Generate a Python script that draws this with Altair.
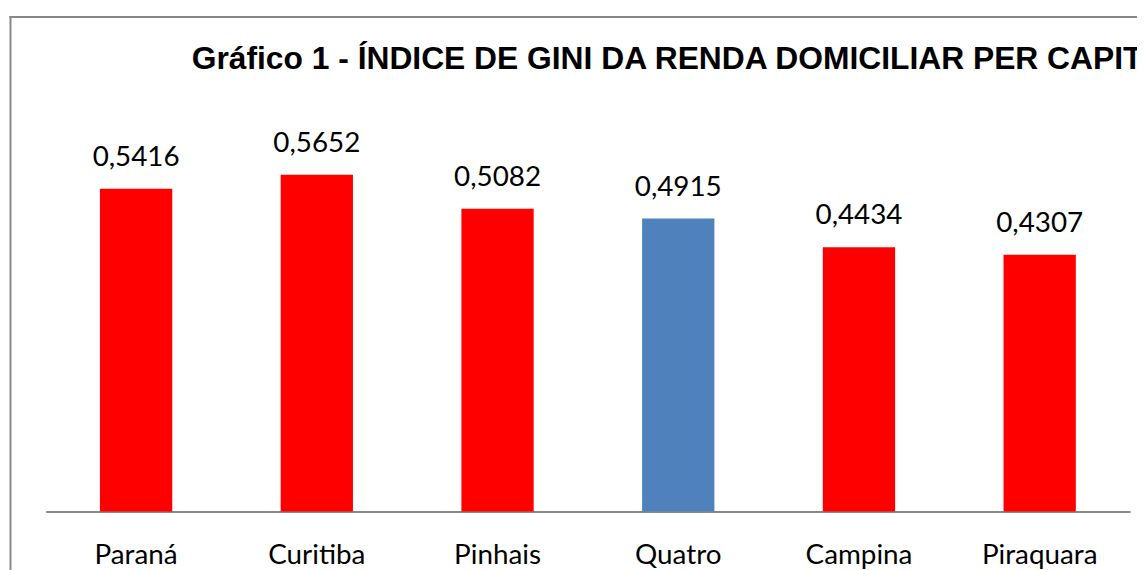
import altair as alt
import pandas as pd

# ---- data ----
categorias = ["Paraná", "Curitiba", "Pinhais", "Quatro", "Campina", "Piraquara"]
gini = [0.5416, 0.5652, 0.5082, 0.4915, 0.4434, 0.4307]
destaque = ["Quatro"]
titulo = "Gráfico 1 - ÍNDICE DE GINI DA RENDA DOMICILIAR PER CAPITA"

df = pd.DataFrame({"municipio": categorias, "gini": gini})
moldura = pd.DataFrame({"k": [0]})

W, H = 1092, 360
CINZA = "#888888"

base = alt.Chart(df).encode(
    x=alt.X(
        "municipio:N",
        sort=categorias,
        scale=alt.Scale(paddingInner=0.6, paddingOuter=0.3),
        axis=alt.Axis(
            title=None,
            labelAngle=0,
            ticks=False,
            tickSize=0,
            grid=False,
            domainColor=CINZA,
            domainWidth=2,
            labelFont="Lato",
            labelFontSize=28,
            labelColor="#000000",
            labelBaseline="alphabetic",
            labelPadding=52,
        ),
    ),
    y=alt.Y("gini:Q", scale=alt.Scale(domain=[0, 0.6]), axis=None),
)

bars = base.mark_bar().encode(
    color=alt.condition(
        alt.FieldOneOfPredicate(field="municipio", oneOf=destaque),
        alt.value("#4F81BD"),
        alt.value("#FF0000"),
    )
)

labels = (
    base.transform_calculate(rotulo="replace(format(datum.gini, '.4f'), '.', ',')")
    .mark_text(baseline="alphabetic", dy=-23, font="Lato", fontSize=28, color="#000000")
    .encode(text="rotulo:N")
)

frame_v = alt.Chart(moldura).mark_rule(color=CINZA, strokeWidth=2).encode(
    x=alt.value(-35.5), y=alt.value(-139), y2=alt.value(H + 80)
)
frame_h = alt.Chart(moldura).mark_rule(color=CINZA, strokeWidth=2).encode(
    x=alt.value(-36.5), x2=alt.value(W + 40), y=alt.value(-138)
)

chart = (
    alt.layer(frame_v, frame_h, bars, labels)
    .properties(
        width=W,
        height=H,
        title=alt.TitleParams(
            text=titulo,
            anchor="start",
            frame="group",
            dx=147,
            offset=-86,
            baseline="alphabetic",
            font="Liberation Sans",
            fontSize=32,
            fontWeight="bold",
            color="#000000",
        ),
        autosize=alt.AutoSizeParams(type="none"),
        padding={"left": 38, "top": 145, "right": 7, "bottom": 57},
    )
    .configure(background="#ffffff")
    .configure_view(strokeWidth=0, stroke="transparent")
)

chart.save("out.html", embed_options={"renderer": "svg", "actions": False})
